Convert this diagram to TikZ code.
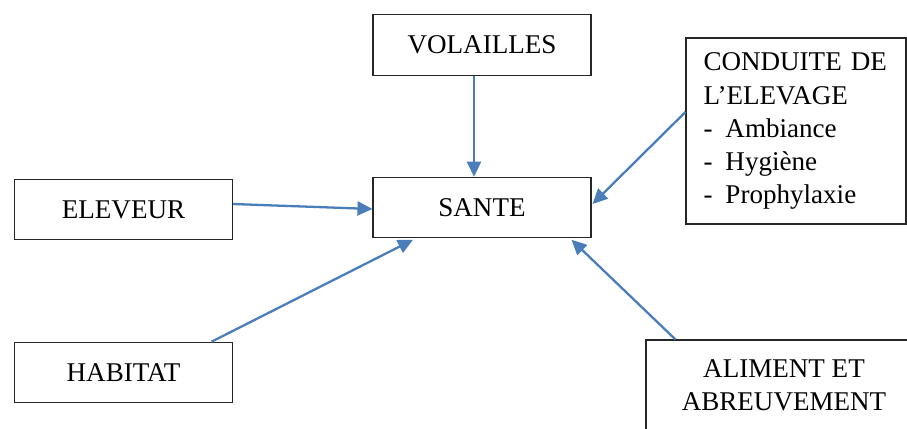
\documentclass[tikz,border=0pt]{standalone}
\usepackage{fontspec}
\setmainfont{Liberation Serif}
\usetikzlibrary{arrows.meta}

\begin{document}
\begin{tikzpicture}[scale = 1]
  \definecolor{arrowblue}{HTML}{4A7EBB}
  \tikzstyle{every node}=[font=\fontsize{15.4}{18.8}\selectfont]
  \tikzstyle{box}=[draw=black!85, line width=0.6pt, minimum width=4.36cm, minimum height=1.21cm, inner sep=0pt]
  \tikzstyle{link}=[draw=arrowblue, line width=1.3pt, -{Triangle[length=0.3cm,width=0.28cm]}]

  \useasboundingbox (0,0) rectangle (18.14,8.56);

  \node[box](volailles) at (9.64,7.66) {VOLAILLES};
  \node[box](sante) at (9.64,4.41) {SANTE};
  \node[box](eleveur) at (2.47,4.37) {ELEVEUR};
  \node[box](habitat) at (2.47,1.11) {HABITAT};
  \node[box, minimum width=4.4cm, minimum height=3.72cm, text width=3.7cm, align=left, inner xsep=0.35cm](conduite) at (15.92,5.94)
    {CONDUITE DE\\L’ELEVAGE\\\makebox[0.44cm][l]{-}Ambiance\\\makebox[0.44cm][l]{-}Hygiène\\\makebox[0.44cm][l]{-}Prophylaxie};
  \node[box, minimum width=5.52cm, minimum height=1.8cm, align=center](aliment) at (15.68,0.86) {ALIMENT ET\\ABREUVEMENT};

  \draw[link] ([xshift=-0.16cm]volailles.south) -- ([xshift=-0.16cm]sante.north);
  \draw[link] ([yshift=0.11cm]eleveur.east) -- ([yshift=-0.03cm]sante.west);
  \draw[link] ([xshift=1.76cm]habitat.north) -- ([xshift=-1.38cm,yshift=-0.03cm]sante.south);
  \draw[link] ([xshift=0.6cm]aliment.north west) -- ([xshift=-0.4cm,yshift=-0.03cm]sante.south east);
  \draw[link] ([yshift=0.38cm]conduite.west) -- ([xshift=0.02cm,yshift=0.07cm]sante.east);

\end{tikzpicture}
\end{document}
